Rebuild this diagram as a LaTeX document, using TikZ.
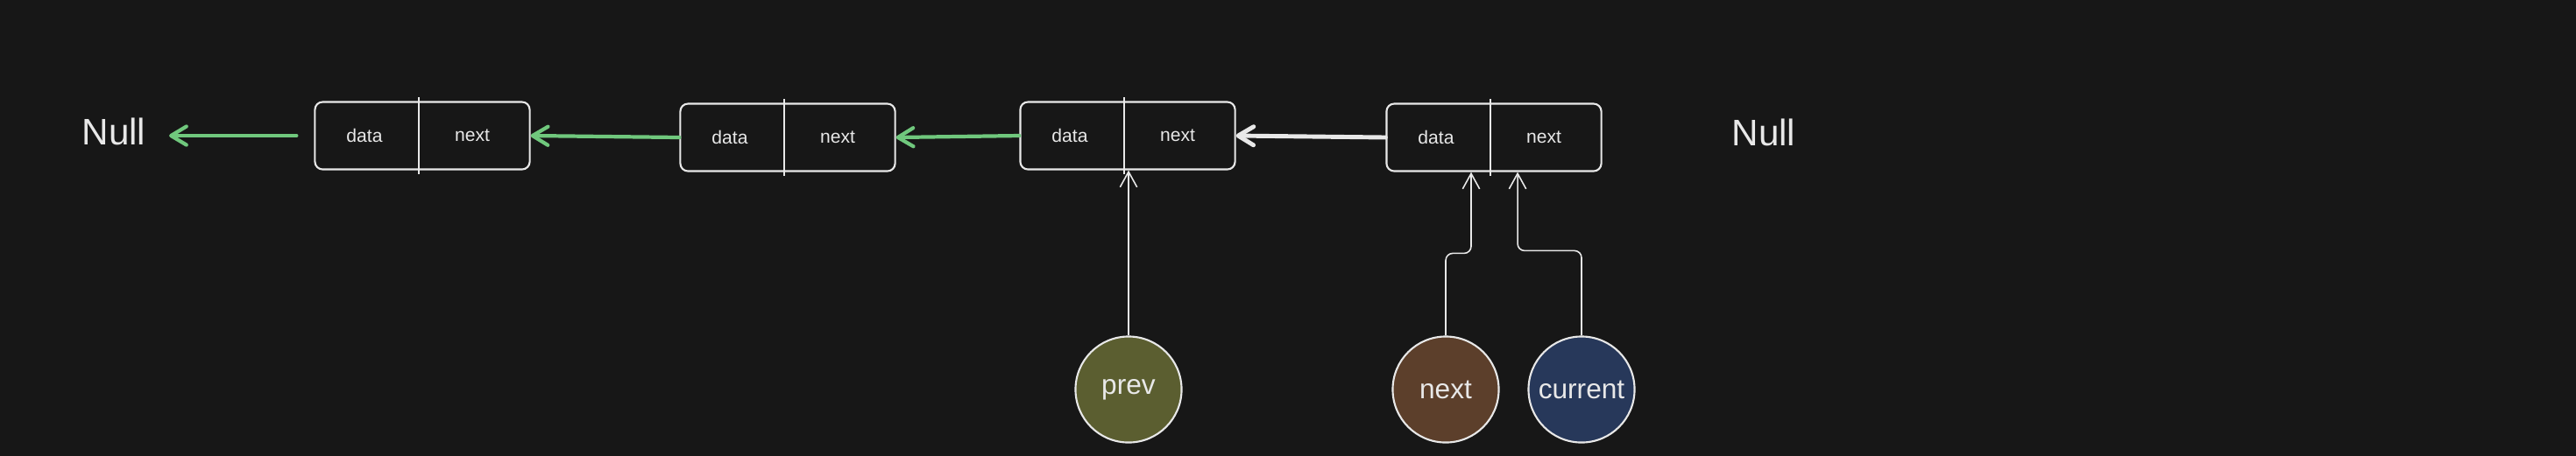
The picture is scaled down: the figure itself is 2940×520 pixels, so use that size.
\documentclass[tikz,border=0pt]{standalone}
\usepackage{fontspec}
\setmainfont{Liberation Sans}
\usetikzlibrary{arrows.meta}
\definecolor{bg}{RGB}{23,23,23}
\definecolor{ink}{RGB}{232,232,232}
\definecolor{lgreen}{RGB}{112,200,125}
\definecolor{prevfill}{RGB}{91,94,48}
\definecolor{nextfill}{RGB}{92,63,43}
\definecolor{curfill}{RGB}{39,56,90}
\tikzset{
  cell/.style={draw=ink, line width=0.6pt, rounded corners=2.5pt, minimum width=2.45cm, minimum height=0.77cm},
  lbl/.style={text=ink, font=\fontsize{6}{7}\selectfont, inner sep=0pt},
  link/.style={lgreen, line width=1.2pt, line cap=round, -{Straight Barb[length=5pt,width=6pt,round]}},
  ptr/.style={ink, line width=0.45pt, rounded corners=0.08cm, -{Straight Barb[length=5pt,width=5.5pt]}},
  var/.style={circle, draw=ink, line width=0.6pt, minimum size=1.21cm, inner sep=0pt, text=ink, font=\fontsize{9}{11}\selectfont},
  nul/.style={text=ink, font=\fontsize{12}{14}\selectfont, inner sep=0pt}
}
\begin{document}
\begin{tikzpicture}[x=0.01cm,y=-0.01cm]
\useasboundingbox (0,0) rectangle (2940,520);
\fill[bg] (-10,-10) rectangle (2950,530);
% the four list nodes
\foreach\n/\x/\y in {1/482/155,2/899/157,3/1287/155,4/1705/157}
{
  \node[cell] (b\n) at (\x,\y) {};
  \draw[ink, line width=0.5pt] ([xshift=-0.04cm,yshift=0.04cm]b\n.north) -- ([xshift=-0.04cm,yshift=-0.04cm]b\n.south);
  \node[lbl] (d\n) at ([xshift=-0.66cm]b\n.center) {data};
  \node[lbl] (p\n) at ([xshift=0.57cm]b\n.center) {next};
}
\node[nul] (nullL) at (130,150) {Null};
\node[nul] (nullR) at (2013,151) {Null};
% reversed links
\draw[link, shorten <=0.2cm, shorten >=0.26cm] (b1.west) -- (nullL.east |- b1.west);
\foreach\a/\b in {2/1,3/2}
  \draw[link] (b\a.west) -- (b\b.east);
\draw[link, ink, line width=1.4pt] (b4.west) -- (b3.east);
% pointers
\node[var, fill=prevfill] (prev) at (1288,445) {prev};
\node[var, fill=nextfill] (nxt) at (1650,445) {next};
\node[var, fill=curfill] (cur) at (1805,445) {current};
\draw[ptr] (prev.north) -- (b3.south -| prev.north);
\draw[ptr] (nxt.north) -- ++(0,-94) -| ([xshift=-0.26cm]b4.south);
\draw[ptr] (cur.north) -- ++(0,-97) -| ([xshift=0.27cm]b4.south);
\end{tikzpicture}
\end{document}
